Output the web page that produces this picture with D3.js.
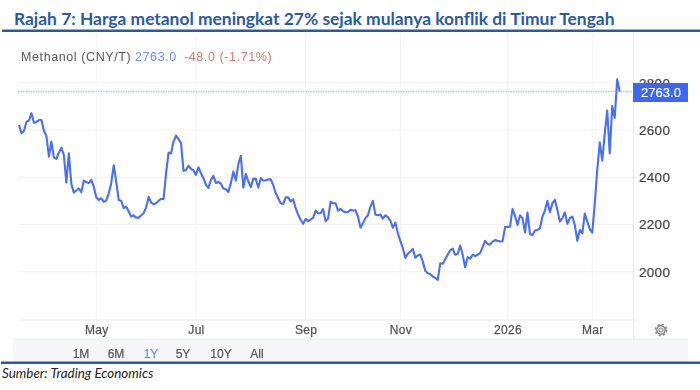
<!DOCTYPE html>
<html>
<head>
<meta charset="utf-8">
<script src="https://cdn.jsdelivr.net/npm/d3@7"></script>
<style>
html, body { margin: 0; padding: 0; background: #fff; }
svg { display: block; }
</style>
</head>
<body>
<div id="chart"></div>
<script>
// Daily closes, one per trading session
const values = [
	2621,2586,2597,2635,2640,2671,2631,2634,2642,2642,2597,2575,2487,2551,2483,2478,2504,2525,2494,2377,
	2501,2372,2335,2344,2352,2337,2386,2380,2375,2389,2360,2315,2304,2311,2296,2301,2332,2375,2451,2382,
	2304,2300,2269,2276,2255,2234,2239,2229,2229,2238,2248,2272,2317,2293,2286,2290,2301,2308,2308,2417,
	2504,2501,2551,2576,2561,2544,2427,2431,2449,2435,2430,2410,2442,2417,2396,2368,2355,2389,2406,2376,
	2380,2373,2352,2349,2338,
	2375,2424,2386,2456,2491,2356,2414,2382,2358,2394,2393,2356,2396,2386,2386,2391,2391,2367,2332,2311,
	2290,2287,2315,2315,2298,2307,2269,2241,2220,2203,2224,2214,2222,2228,2259,2248,2248,2265,2214,2225,
	2296,2290,2290,2259,2266,2256,2252,2253,2262,2259,2260,2234,2187,2205,2227,2239,2276,2300,2241,2239,
	2242,2225,2239,2231,2217,2186,2208,2163,2131,2100,2059,2076,2086,2097,2060,2069,2073,2043,2004,1994,
	1991,1980,1974,1966,2036,2034,2053,2072,2091,2098,2072,2076,2111,2072,2019,2062,2056,
	2072,2067,2072,2079,2104,2131,2118,2115,2128,2134,2131,2128,2129,2189,2190,2191,2266,2237,2198,2239,
	2227,2167,2251,2160,2156,2175,2177,2184,2234,2259,2300,2252,2290,2304,2262,2213,2227,2251,2203,2227,
	2234,2198,2131,2177,2163,2246,2213,2180,2166,2290,2431,2548,2470,2586,2682,2501,2701,2652,2814,2763
];
const yTicks = [2000, 2200, 2400, 2600, 2800];
const monthLabels = ["May", "Jul", "Sep", "Nov", "2026", "Mar"];
const monthSessions = [31, 71, 115, 153, 196, 230]; // session each label falls on
const rangeLabels = ["1M", "6M", "1Y", "5Y", "10Y", "All"];
const lastPrice = 2763;

const width = 700, height = 390;
const titleBlue = "#2a5aa4", lineBlue = "#4a6ff0";

const svg = d3.select("#chart").append("svg")
	.attr("width", width)
	.attr("height", height);

// Scales
const x = d3.scaleLinear().domain([0, values.length - 1]).range([19, 619.7]);
const y = d3.scaleLinear().domain([2000, 2800]).range([271.8, 82.7]);

// Title and source
svg.append("text")
	.attr("x", 14).attr("y", 25)
	.attr("font-family", "Lato").attr("font-weight", 700).attr("font-size", 17.4)
	.attr("fill", titleBlue)
	.text("Rajah 7: Harga metanol meningkat 27% sejak mulanya konflik di Timur Tengah");

svg.append("rect").attr("x", 2).attr("y", 29.5).attr("width", 698).attr("height", 2.5).attr("fill", titleBlue);

const chart = svg.append("g").style("filter", "blur(0.35px)");

// Range selector band
chart.append("rect")
	.attr("x", 13).attr("y", 339).attr("width", 675).attr("height", 23)
	.attr("fill", "#f6f7f9");

// Grid
chart.append("g").selectAll("line").data(yTicks).enter().append("line")
	.attr("x1", 19).attr("x2", 634)
	.attr("y1", d => y(d)).attr("y2", d => y(d))
	.attr("stroke", "#f1f1f1");

chart.append("g").selectAll("line").data(monthSessions).enter().append("line")
	.attr("x1", d => x(d)).attr("x2", d => x(d))
	.attr("y1", 33).attr("y2", 320)
	.attr("stroke", "#f3f3f3");

// Bottom and right borders
chart.append("line").attr("x1", 19).attr("x2", 638).attr("y1", 320).attr("y2", 320).attr("stroke", "#e8e8ea");
chart.append("line").attr("x1", 633.7).attr("x2", 633.7).attr("y1", 33).attr("y2", 339).attr("stroke", "#e8e8ea");
chart.append("line").attr("x1", 13).attr("x2", 688).attr("y1", 339).attr("y2", 339).attr("stroke", "#e8eaee");

// Y axis
const yAxis = chart.append("g")
	.attr("transform", "translate(634,0)")
	.call(d3.axisRight(y).tickValues(yTicks).tickSize(0).tickPadding(5).tickFormat(d3.format("d")));
yAxis.select(".domain").remove();
yAxis.selectAll("text")
	.attr("font-family", "Liberation Sans").attr("font-size", 13.5).attr("letter-spacing", 0.3)
	.attr("fill", "#444").attr("stroke", "#444").attr("stroke-width", 0.2);

// X axis
const xAxis = chart.append("g")
	.attr("transform", "translate(0,320)")
	.call(d3.axisBottom(x).tickValues(monthSessions).tickSize(0).tickPadding(5)
		.tickFormat((d, i) => monthLabels[i]));
xAxis.select(".domain").remove();
xAxis.selectAll("text")
	.attr("font-family", "Liberation Sans").attr("font-size", 12).attr("letter-spacing", 0.3)
	.attr("fill", "#555").attr("stroke", "#555").attr("stroke-width", 0.25);

// Last price line
chart.append("line")
	.attr("class", "last-price")
	.attr("x1", 18).attr("x2", 634)
	.attr("y1", y(lastPrice)).attr("y2", y(lastPrice))
	.style("stroke", "#b4c3fc").style("stroke-width", 1.6).style("stroke-dasharray", "1.5,1");

// Price series
const line = d3.line().x((d, i) => x(i)).y(d => y(d));
chart.append("path")
	.datum(values)
	.attr("d", line)
	.attr("fill", "none")
	.attr("stroke", lineBlue)
	.attr("stroke-width", 2.1)
	.attr("stroke-linejoin", "round");

// Price tag
chart.append("rect").attr("x", 633).attr("y", 83).attr("width", 55).attr("height", 19).attr("fill", "#3f66f2");
chart.append("text")
	.attr("x", 661).attr("y", 97)
	.attr("text-anchor", "middle")
	.attr("font-family", "Liberation Sans").attr("font-size", 13).attr("fill", "#fff")
	.attr("stroke", "#fff").attr("stroke-width", 0.15)
	.text(d3.format(".1f")(lastPrice));

// Header
const header = chart.append("text")
	.attr("x", 21).attr("y", 60.5)
	.attr("font-family", "Liberation Sans").attr("font-size", 12.5).attr("letter-spacing", 0.6);
header.append("tspan").attr("fill", "#555").text("Methanol (CNY/T)");
header.append("tspan").attr("fill", "#6f8cf5").attr("x", 135).text(d3.format(".1f")(lastPrice));
header.append("tspan").attr("fill", "#e0736b").attr("x", 184).text("-48.0 (-1.71%)");

// Range buttons
const rangeX = [81, 116, 151, 183, 221, 257];
chart.append("g").selectAll("text").data(rangeLabels).enter().append("text")
	.attr("x", (d, i) => rangeX[i]).attr("y", 358)
	.attr("text-anchor", "middle")
	.attr("font-family", "Liberation Sans").attr("font-size", 12)
	.attr("fill", d => d === "1Y" ? "#6f8cf5" : "#555")
	.attr("stroke", d => d === "1Y" ? "#6f8cf5" : "#555").attr("stroke-width", 0.2)
	.text(d => d);

// Settings gear
const gear = chart.append("g").attr("transform", "translate(661,330)").attr("fill", "none").attr("stroke", "#888");
gear.append("circle").attr("r", 2).attr("stroke-width", 1.2);
gear.append("circle").attr("r", 4.2).attr("stroke-width", 1.4);
gear.append("circle").attr("r", 5.6).attr("stroke-width", 1.6).attr("stroke-dasharray", "2.2,2.2");

// Source rule and note
svg.append("rect").attr("x", 1).attr("y", 361.5).attr("width", 699).attr("height", 2.5).attr("fill", titleBlue);
svg.append("text")
	.attr("x", 2).attr("y", 378)
	.attr("font-family", "Lato").attr("font-style", "italic").attr("font-size", 13.4)
	.attr("fill", "#222")
	.text("Sumber: Trading Economics");
</script>
</body>
</html>
